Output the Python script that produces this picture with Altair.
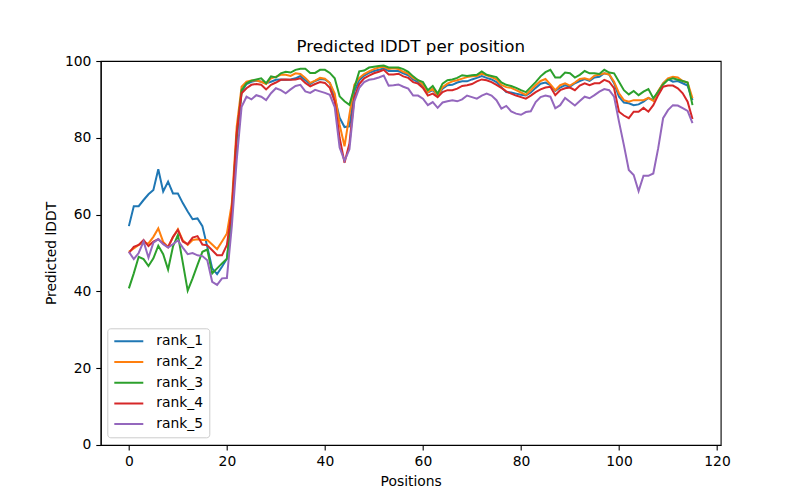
import altair as alt
import pandas as pd

positions = list(range(116))
ranks = ["rank_1", "rank_2", "rank_3", "rank_4", "rank_5"]
colors = ["#1f77b4", "#ff7f0e", "#2ca02c", "#d62728", "#9467bd"]

rank_1 = [57.0, 62.2, 62.2, 63.8, 65.3, 66.4, 71.8, 66.0, 68.6, 65.5, 65.5, 63.0, 60.8, 58.8, 59.0, 57.0, 51.6, 46.0, 44.5, 46.4,
          48.5, 59.5, 79.5, 92.0,
          94.0, 94.6, 94.9, 94.6, 94.2, 94.6, 95.1, 95.2, 95.1, 95.2, 95.5, 96.1,
          95.0, 94.0, 94.8, 95.3, 95.2, 94.3, 90.5, 85.2, 82.8, 83.0, 92.0, 95.0, 96.2,
          96.9, 97.4, 97.7, 98.1, 97.4, 97.4, 97.4,
          96.8, 96.3, 95.2, 94.5, 93.5, 91.8, 92.4, 91.0, 92.8, 93.7, 93.8, 94.4, 94.7, 94.7, 95.2,
          95.6, 96.1, 95.6, 95.2, 94.5, 93.2, 91.9, 91.8, 91.5, 91.2, 91.0, 91.8, 93.0, 94.1, 94.4,
          93.7, 92.2, 93.1, 93.7, 93.3, 94.2, 94.8, 95.3, 94.8, 95.7, 95.9, 96.8, 96.5, 94.2, 90.7,
          89.2, 89.0, 88.5, 88.7, 89.4, 90.4, 89.8, 92.0, 94.2, 95.3, 94.6, 94.8, 94.2, 93.6, 89.8]

rank_2 = [50.3, 51.2, 52.1, 52.6, 52.5, 54.2, 56.4, 52.9, 51.6, 54.1, 56.2, 53.3, 52.1, 53.4, 53.6, 53.4, 53.4, 52.2, 51.0, 53.0,
          55.1, 62.9, 82.9, 93.3,
          94.6, 94.9, 94.9, 94.6, 94.0, 95.5, 95.9, 96.4, 96.4, 96.1, 96.8, 96.6,
          95.6, 94.3, 94.9, 95.6, 95.4, 94.3, 91.5, 83.4, 77.8, 86.0, 93.8, 95.6, 96.6,
          97.3, 97.9, 98.3, 98.5, 97.9, 98.1, 97.9,
          97.2, 96.7, 95.6, 95.0, 93.8, 91.9, 92.8, 91.0, 93.2, 94.1, 94.7, 95.0, 95.4, 95.8, 96.0,
          96.1, 96.7, 96.3, 95.8, 95.2, 93.8, 93.2, 93.0, 92.4, 91.8, 91.2, 92.4, 93.7, 94.8, 95.3,
          93.9, 92.4, 93.7, 94.2, 93.6, 94.4, 95.3, 95.5, 95.1, 96.2, 96.4, 96.8, 96.5, 94.6, 91.6,
          89.8, 89.4, 89.8, 89.8, 89.8, 90.4, 89.6, 92.2, 94.2, 95.5, 95.9, 95.7, 94.8, 94.4, 90.3]

rank_3 = [40.8, 44.7, 49.0, 48.4, 46.6, 48.6, 51.9, 49.7, 45.7, 51.7, 54.7, 47.5, 40.2, 43.4, 46.9, 50.3, 50.9, 44.7, 46.0, 47.3,
          48.5, 60.3, 80.3, 92.4,
          94.2, 94.9, 95.2, 95.5, 94.2, 96.0, 95.7, 96.8, 97.2, 97.0, 97.7, 98.0,
          98.0, 96.9, 96.9, 97.7, 97.7, 96.9, 95.5, 90.8, 89.5, 88.6, 93.0, 97.3, 97.5,
          98.3, 98.5, 98.7, 98.8, 98.3, 98.3, 98.3,
          97.9, 97.2, 96.0, 95.0, 94.5, 92.4, 93.5, 91.5, 94.1, 95.0, 95.2, 95.6, 96.3, 96.1, 96.3,
          96.4, 97.3, 96.4, 96.1, 95.8, 94.4, 93.8, 93.5, 93.0, 92.4, 91.9, 93.2, 94.5, 96.0, 97.1,
          97.7, 95.7, 95.7, 97.0, 96.8, 95.7, 96.4, 97.4, 96.8, 96.8, 96.6, 97.7, 97.0, 96.8, 94.6,
          92.4, 91.3, 92.2, 91.1, 92.0, 92.7, 90.3, 92.0, 93.9, 95.1, 95.5, 95.1, 94.8, 94.4, 88.5]

rank_4 = [50.0, 51.6, 52.1, 53.4, 51.8, 53.0, 53.6, 52.5, 51.5, 54.2, 56.0, 53.0, 52.3, 54.0, 54.4, 52.2, 52.0, 50.7, 49.4, 49.4,
          52.1, 61.2, 81.2, 91.6,
          92.9, 93.8, 94.0, 93.8, 92.6, 93.8, 94.4, 95.1, 95.2, 95.1, 95.2, 95.5,
          94.3, 93.4, 94.0, 94.5, 94.3, 93.0, 89.5, 80.0, 73.5, 78.5, 90.5, 94.0, 95.5,
          96.2, 96.8, 97.2, 97.7, 96.5, 96.5, 96.7,
          96.0, 95.6, 94.5, 94.1, 93.0, 91.0, 91.5, 90.6, 91.9, 92.4, 92.4, 92.8, 93.5, 93.7, 94.0,
          94.7, 95.2, 95.0, 94.5, 93.8, 93.0, 92.1, 91.5, 91.0, 90.6, 90.2, 91.0, 91.9, 92.6, 93.1,
          93.3, 91.1, 92.4, 92.9, 93.1, 92.4, 93.6, 94.2, 93.7, 94.2, 94.2, 95.1, 94.6, 92.9, 86.8,
          85.8, 85.1, 86.8, 86.8, 87.8, 86.8, 88.5, 91.1, 93.3, 93.6, 93.6, 92.9, 91.6, 89.4, 84.9]

rank_5 = [50.3, 48.4, 50.0, 53.0, 48.8, 52.7, 53.6, 52.3, 51.4, 52.3, 53.3, 51.4, 49.7, 50.0, 49.4, 49.2, 48.1, 42.5, 41.7, 43.4,
          43.5, 56.9, 74.2, 88.1,
          90.7, 90.0, 91.1, 90.7, 89.8, 91.6, 92.9, 92.4, 91.6, 92.6, 93.5, 93.8,
          92.1, 91.7, 92.5, 92.1, 91.7, 91.2, 88.0, 77.5, 74.0, 77.0, 89.5, 93.0, 94.5,
          95.1, 95.3, 95.7, 96.2, 93.6, 93.7, 93.9,
          93.3, 92.8, 91.0, 91.0, 90.2, 88.5, 89.3, 87.8, 89.2, 89.5, 89.8, 89.5, 90.0, 91.0, 90.6,
          90.2, 91.0, 91.5, 91.0, 89.8, 87.6, 88.3, 86.9, 86.3, 86.0, 86.7, 86.9, 89.3, 90.6, 91.0,
          90.7, 87.7, 88.5, 90.4, 89.4, 88.4, 89.6, 90.7, 90.3, 91.1, 92.0, 92.7, 92.4, 90.7, 84.2,
          78.1, 71.6, 70.3, 66.1, 70.1, 70.1, 70.7, 77.3, 85.1, 87.2, 88.5, 88.4, 87.7, 87.0, 83.8]

x_ticks = [0, 20, 40, 60, 80, 100, 120]
y_ticks = [0, 20, 40, 60, 80, 100]

series = [rank_1, rank_2, rank_3, rank_4, rank_5]
rows = []
for name, vals in zip(ranks, series):
    for p, v in zip(positions, vals):
        rows.append({"Position": p, "lDDT": v, "rank": name})
df = pd.DataFrame(rows)

FONT = "DejaVu Sans"

def axis(title, values):
    return alt.Axis(
        title=title, values=values, grid=False, format="d",
        tickSize=4.9, tickWidth=1.1, tickColor="black",
        domainColor="black", domainWidth=1.1,
        labelFont=FONT, labelFontSize=13.9, labelColor="black", labelPadding=4.9,
        labelFlush=False,
        titleFont=FONT, titleFontSize=13.9, titleFontWeight="normal",
        titleColor="black", titlePadding=5.6,
    )

chart = alt.Chart(df).mark_line(strokeWidth=2, clip=True).encode(
    x=alt.X("Position:Q", scale=alt.Scale(domain=[-5.75, 120.75], nice=False, zero=False),
            axis=axis("Positions", x_ticks)),
    y=alt.Y("lDDT:Q", scale=alt.Scale(domain=[0, 100], nice=False),
            axis=axis("Predicted lDDT", y_ticks)),
    color=alt.Color("rank:N", scale=alt.Scale(domain=ranks, range=colors),
                    legend=alt.Legend(
                        orient="none", legendX=6.6, legendY=267.3, title=None,
                        symbolType="stroke", symbolSize=841, symbolStrokeWidth=2,
                        labelFont=FONT, labelFontSize=13.9, labelColor="black",
                        labelOffset=12, padding=6, rowPadding=6.7, clipHeight=14,
                        fillColor="rgba(255,255,255,0.8)", strokeColor="#cccccc",
                        cornerRadius=3)),
    detail="rank:N",
).properties(
    width=620, height=384,
    title=alt.TitleParams("Predicted lDDT per position", font=FONT, fontSize=16.7,
                          fontWeight="normal", color="black", anchor="middle", offset=-2),
    autosize=alt.AutoSizeParams(type="none"),
    padding={"left": 92.7, "top": 53, "right": 70, "bottom": 45},
).configure_view(stroke="black", strokeWidth=1.1)

chart.save("out.html", embed_options={"renderer": "svg", "actions": False})
